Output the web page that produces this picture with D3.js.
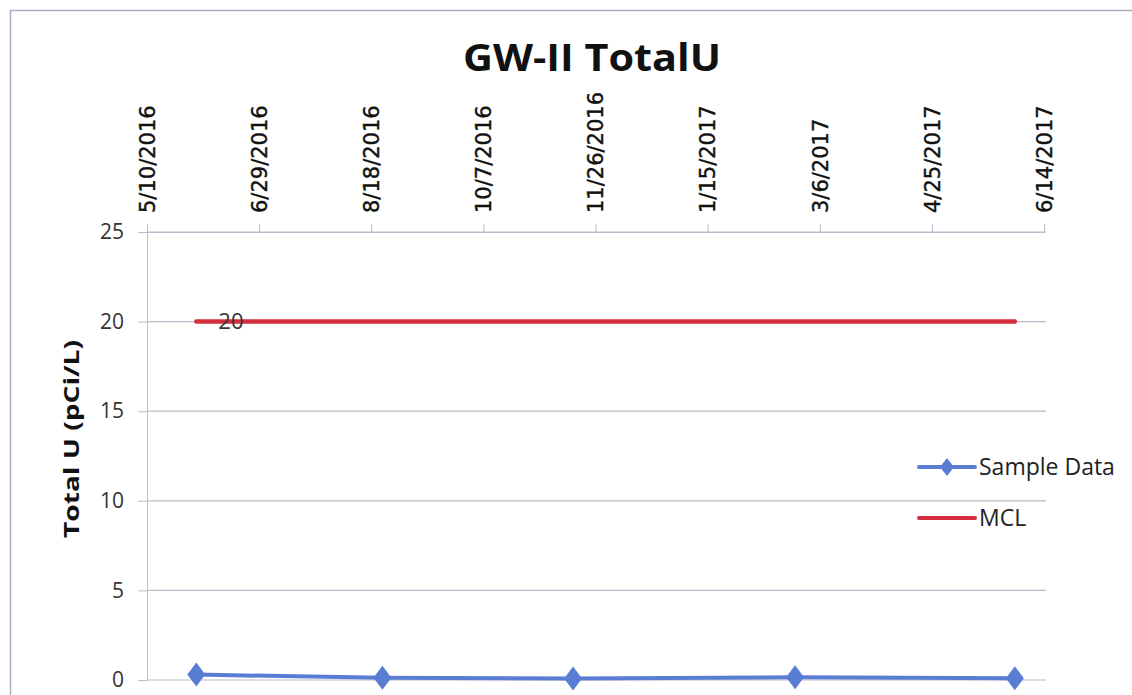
<!DOCTYPE html>
<html><head><meta charset="utf-8">
<script src="https://cdn.jsdelivr.net/npm/d3@7"></script>
<style>body{margin:0;background:#fff}svg{display:block}</style>
</head><body><svg id="c" width="1132" height="695"></svg>
<script>
const title = "GW-II TotalU";
const yTitle = "Total U (pCi/L)";
const tickLabels = ["5/10/2016","6/29/2016","8/18/2016","10/7/2016","11/26/2016","1/15/2017","3/6/2017","4/25/2017","6/14/2017"];
const yTicks = [0,5,10,15,20,25];
const sampleDates = ["6/1/2016","8/23/2016","11/16/2016","2/23/2017","6/1/2017"];
const sampleValues = [0.3,0.12,0.08,0.15,0.1];
const mclDates = ["6/1/2016","8/23/2016","11/16/2016","2/23/2017","6/1/2017"];
const mclValues = [20,20,20,20,20];
const seriesNames = ["Sample Data","MCL"];

const parse = d3.utcParse("%m/%d/%Y");
const svg = d3.select("#c");
const L=147,R=1044,T=232,B=680;
const x = d3.scaleUtc().domain([parse(tickLabels[0]), parse(tickLabels[tickLabels.length-1])]).range([L,R]);
const y = d3.scaleLinear().domain([0,25]).range([B,T]);
const grid="#b9bccb", blue="#5a7dd4", red="#d42e3c";

// frame
svg.append("path").attr("d","M10.5,700 V10.5 H1140").attr("fill","none").attr("stroke","#aab0c4").attr("stroke-width",1.5);

// title
svg.append("text").attr("x",592).attr("y",71).attr("text-anchor","middle")
  .style("font-family","Open Sans").style("font-weight","bold").style("font-size","37px").attr("fill","#111")
  .attr("textLength",258).attr("lengthAdjust","spacingAndGlyphs").text(title);

// y grid + axis
const ya = svg.append("g").attr("transform",`translate(${L},0)`).call(d3.axisLeft(y).tickValues(yTicks).tickSize(9).tickPadding(14));
ya.select(".domain").attr("stroke",grid);
ya.selectAll(".tick line").attr("stroke",grid);
ya.selectAll(".tick text").style("font-family","Open Sans").style("font-size","21px").attr("fill","#333");
svg.append("g").selectAll("line").data(yTicks).join("line")
  .attr("x1",L).attr("x2",R+2).attr("y1",d=>y(d)).attr("y2",d=>y(d)).attr("stroke",grid).attr("stroke-width",1.2);

// x axis top
const xa = svg.append("g").attr("transform",`translate(0,${T})`).call(d3.axisTop(x).tickValues(tickLabels.map(parse)).tickSize(8).tickFormat((d,i)=>tickLabels[i]));
xa.select(".domain").attr("stroke",grid);
xa.selectAll(".tick line").attr("stroke",grid);
xa.selectAll(".tick text").attr("transform","rotate(-90)").attr("x",19).attr("y",0).attr("dy","0.35em")
  .attr("text-anchor","start").style("font-family","DejaVu Sans").style("font-size","21px")
  .attr("fill","#111").attr("stroke","#111").attr("stroke-width",0.4);

// y title
svg.append("text").attr("transform",`translate(79,439) rotate(-90)`).attr("text-anchor","middle")
  .style("font-family","Open Sans").style("font-weight","bold").style("font-size","21px").attr("fill","#111")
  .attr("textLength",198).attr("lengthAdjust","spacingAndGlyphs").text(yTitle);

// MCL
const mcl = mclDates.map((d,i)=>({d:parse(d),v:mclValues[i]}));
const line = d3.line().x(p=>x(p.d)).y(p=>y(p.v));
svg.append("path").datum(mcl).attr("d",line).attr("fill","none").attr("stroke",red).attr("stroke-width",4.5).attr("stroke-linecap","round");
svg.append("text").attr("x",x(mcl[0].d)+22).attr("y",y(mcl[0].v)).attr("dy","0.35em")
  .style("font-family","Open Sans").style("font-size","22px").attr("fill","#333").text(mclValues[0]);

// Sample
const smp = sampleDates.map((d,i)=>({d:parse(d),v:sampleValues[i]}));
svg.append("path").datum(smp).attr("d",line).attr("fill","none").attr("stroke",blue).attr("stroke-width",4).attr("stroke-linecap","round");
const diamond = "M0,-12 L9,0 L0,12 L-9,0 Z";
svg.append("g").selectAll("path").data(smp).join("path")
  .attr("transform",p=>`translate(${x(p.d)},${y(p.v)})`).attr("d",diamond).attr("fill",blue);

// legend
const lg = svg.append("g");
[[467,blue,true],[518,red,false]].forEach(([ly,c,mk],i)=>{
  lg.append("line").attr("x1",919).attr("x2",975).attr("y1",ly).attr("y2",ly).attr("stroke",c).attr("stroke-width",4).attr("stroke-linecap","round");
  if(mk) lg.append("path").attr("transform",`translate(947,${ly})`).attr("d","M0,-9 L7,0 L0,9 L-7,0 Z").attr("fill",c);
  lg.append("text").attr("x",979).attr("y",ly).attr("dy","0.35em").style("font-family","Open Sans").style("font-size","23px").attr("fill","#222").text(seriesNames[i]);
});
</script></body></html>
